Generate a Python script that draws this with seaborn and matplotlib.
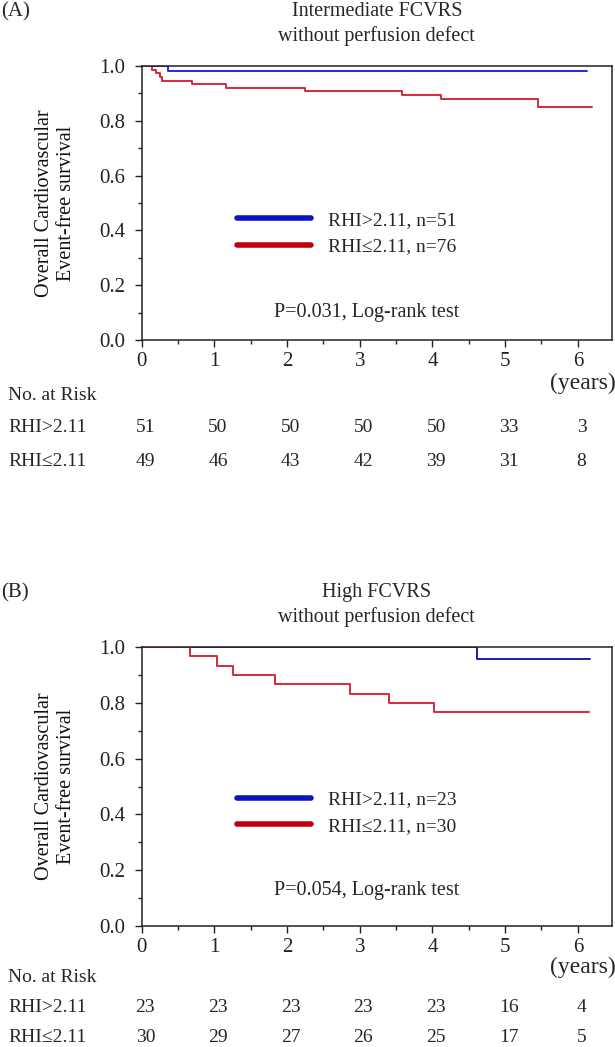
import pandas as pd
import matplotlib
matplotlib.use("Agg")
import matplotlib.pyplot as plt
import matplotlib.transforms as mtransforms
from matplotlib.lines import Line2D
from matplotlib.ticker import MultipleLocator, FormatStrFormatter
import seaborn as sns

sns.set_style("ticks")
plt.rcParams["font.family"] = ["Liberation Serif", "DejaVu Serif"]

# ---------------- data ----------------
groups = ["RHI>2.11", "RHI≤2.11"]
risk_years = [0, 1, 2, 3, 4, 5, 6]

# (A) intermediate FCVRS
a_hi_time = [0, 0.36, 6.12]
a_hi_surv = [1.0, 0.981, 0.981]
a_lo_time = [0, 0.14, 0.20, 0.25, 0.28, 0.69, 1.16, 2.25, 3.58, 4.12, 5.45, 6.19]
a_lo_surv = [1.0, 0.987, 0.974, 0.961, 0.947, 0.934, 0.921, 0.907, 0.894, 0.881, 0.851, 0.851]
a_n = [51, 76]
a_p = "P=0.031, Log-rank test"
a_risk_hi = [51, 50, 50, 50, 50, 33, 3]
a_risk_lo = [49, 46, 43, 42, 39, 31, 8]

# (B) high FCVRS
b_hi_time = [0, 4.61, 6.17]
b_hi_surv = [1.0, 0.956, 0.956]
b_lo_time = [0, 0.66, 1.03, 1.26, 1.84, 2.87, 3.40, 4.02, 6.15]
b_lo_surv = [1.0, 0.967, 0.933, 0.900, 0.867, 0.833, 0.800, 0.767, 0.767]
b_n = [23, 30]
b_p = "P=0.054, Log-rank test"
b_risk_hi = [23, 23, 23, 23, 23, 16, 4]
b_risk_lo = [30, 29, 27, 26, 25, 17, 5]

W, H = 615, 1047
fig = plt.figure(figsize=(W / 100, H / 100), dpi=100)


def fy(px):
    return 1 - px / H


def draw_panel(top, bottom, letter, title, hi_t, hi_s, lo_t, lo_s, n, ptext,
               risk_hi, risk_lo, curve_cols, leg_y, p_y, tbl):
    left, right = 141.7, 612
    ax = fig.add_axes([left / W, fy(bottom), (right - left) / W, (bottom - top) / H])

    df = pd.concat([
        pd.DataFrame({"time": hi_t, "surv": hi_s, "group": groups[0]}),
        pd.DataFrame({"time": lo_t, "surv": lo_s, "group": groups[1]}),
    ])
    sns.lineplot(data=df, x="time", y="surv", hue="group",
                 palette=dict(zip(groups, curve_cols)), estimator=None,
                 drawstyle="steps-post", linewidth=1.4, legend=False, ax=ax)

    ax.set_xlim(0, 6.47)
    ax.set_ylim(0, 1.0)
    ax.xaxis.set_major_locator(MultipleLocator(1))
    ax.xaxis.set_minor_locator(MultipleLocator(0.5))
    ax.yaxis.set_major_locator(MultipleLocator(0.2))
    ax.yaxis.set_minor_locator(MultipleLocator(0.1))
    ax.yaxis.set_major_formatter(FormatStrFormatter("%.1f"))
    ax.tick_params(which="major", length=5, width=1, labelsize=15, colors="#222222")
    ax.tick_params(axis="y", which="major", pad=7)
    ax.tick_params(which="minor", length=3, width=1, colors="#222222")
    for s in ax.spines.values():
        s.set_color("#222222")
        s.set_linewidth(1.1)
    ax.set_xlabel("")
    ax.set_ylabel("Overall Cardiovascular\nEvent-free survival", fontsize=14.5,
                  linespacing=1.2, color="#111111")
    ax.yaxis.set_label_coords(-0.14, 0.5)

    handles = [Line2D([], [], color="#0a14c0", lw=4),
               Line2D([], [], color="#c0000c", lw=4)]
    labels = [f"{groups[0]}, n={n[0]}", f"{groups[1]}, n={n[1]}"]
    ax.legend(handles, labels, loc="center left", bbox_to_anchor=(0.2027, leg_y),
              frameon=False, fontsize=14, handlelength=3.8, handletextpad=0.9,
              labelspacing=0.45, borderpad=0, borderaxespad=0)
    ax.text(0.479, p_y, ptext, transform=ax.transAxes, ha="center", va="center",
            fontsize=14.5)

    cx = (left + right) / 2 / W
    fig.text(0.002, fy(top - 54), letter, fontsize=15, va="center")
    fig.text(cx, fy(top - 42), title + "\nwithout perfusion defect", fontsize=14.5,
             ha="center", va="center", linespacing=1.3)

    # number at risk table
    tr = mtransforms.blended_transform_factory(ax.transData, fig.transFigure)
    y_years, y_head, y_r1, y_r2 = tbl
    fig.text(616 / W, fy(y_years), "(years)", fontsize=17, ha="right", va="center")
    fig.text(8 / W, fy(y_head), "No. at Risk", fontsize=14, va="center")
    fig.text(8 / W, fy(y_r1), groups[0], fontsize=14, va="center")
    fig.text(8 / W, fy(y_r2), groups[1], fontsize=14, va="center")
    for yr, v1, v2 in zip(risk_years, risk_hi, risk_lo):
        ax.text(yr + 0.05, fy(y_r1), str(v1), transform=tr, fontsize=14,
                ha="center", va="center", clip_on=False)
        ax.text(yr + 0.05, fy(y_r2), str(v2), transform=tr, fontsize=14,
                ha="center", va="center", clip_on=False)
    return ax


draw_panel(66, 340, "(A)", "Intermediate FCVRS", a_hi_time, a_hi_surv,
           a_lo_time, a_lo_surv, a_n, a_p, a_risk_hi, a_risk_lo,
           ["#2424f0", "#d8283c"], 0.389, 0.102, (383, 395, 428, 462))

draw_panel(647, 926, "(B)", "High FCVRS", b_hi_time, b_hi_surv,
           b_lo_time, b_lo_surv, b_n, b_p, b_risk_hi, b_risk_lo,
           ["#1c1ca8", "#d8283c"], 0.406, 0.129, (967, 977, 1008, 1038))

fig.savefig("out.png", dpi=100)
